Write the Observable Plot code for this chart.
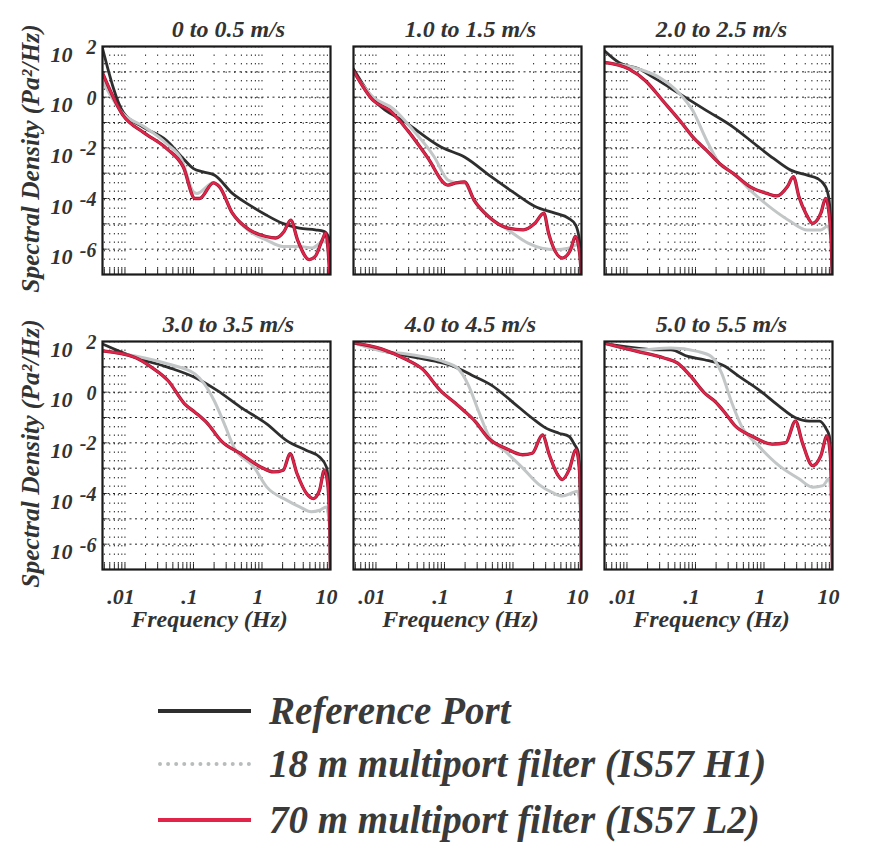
<!DOCTYPE html>
<html><head><meta charset="utf-8">
<script src="https://cdn.jsdelivr.net/npm/d3@7"></script>
<script src="https://cdn.jsdelivr.net/npm/@observablehq/plot@0.6"></script>
<style>
body{margin:0;background:#fff;}
#wrap{position:relative;width:875px;height:851px;font-family:"Liberation Serif","Times New Roman",serif;}
#chart{position:absolute;left:0;top:0;}
.row{position:absolute;left:158px;height:46px;display:flex;align-items:center;}
.sw{width:93px;height:0;margin-right:18px;}
.lt{font-weight:bold;font-style:italic;font-size:39px;color:#3a3a3a;white-space:nowrap;line-height:46px;}
</style></head>
<body><div id="wrap"><div id="chart"></div><div id="legend"></div></div>
<script>
// ---- labels ----
const panelTitles = ["0 to 0.5 m/s","1.0 to 1.5 m/s","2.0 to 2.5 m/s","3.0 to 3.5 m/s","4.0 to 4.5 m/s","5.0 to 5.5 m/s"];
const seriesKeys = ["ref","h1","l2"];
const seriesNames = ["Reference Port","18 m multiport filter (IS57 H1)","70 m multiport filter (IS57 L2)"];
const seriesColors = ["#2e2e2e","#c2c6c6","#e2244b"];
const xTickValues = [0.01,0.1,1,10];
const xTickLabels = [".01",".1","1","10"];
const yExponents = [2,0,-2,-4,-6];
const xTitle = "Frequency (Hz)";
const yTitle = "Spectral Density (Pa\u00B2/Hz)";

// ---- data: [frequency Hz, log10 spectral density (Pa^2/Hz)] ----
const ref0 = [[0.0047,1.93],[0.0095,-0.61],[0.0186,-1.19],[0.041,-1.72],[0.068,-2.37],[0.1,-2.82],[0.138,-2.95],[0.204,-3.08],[0.37,-3.8],[0.66,-4.26],[1.15,-4.65],[2.0,-4.98],[3.5,-5.17],[6.0,-5.24],[8.0,-5.3],[9.3,-5.5],[9.8,-6.3],[10,-7.3]];
const h1_0 = [[0.0047,0.63],[0.0095,-0.67],[0.0186,-1.15],[0.041,-1.85],[0.068,-2.5],[0.1,-3.74],[0.112,-3.8],[0.195,-3.38],[0.24,-3.54],[0.37,-4.58],[0.66,-5.3],[1.15,-5.63],[2.0,-5.89],[3.5,-5.89],[5.4,-5.95],[7.9,-5.7],[9.3,-5.8],[9.8,-6.6],[10,-7.3]];
const l2_0 = [[0.0047,0.96],[0.0095,-0.74],[0.0186,-1.39],[0.041,-2.04],[0.071,-2.76],[0.105,-4.0],[0.123,-4.0],[0.195,-3.38],[0.24,-3.54],[0.37,-4.58],[0.66,-5.24],[1.15,-5.5],[1.58,-5.56],[2.1,-5.3],[2.63,-4.85],[3.3,-5.63],[4.9,-6.41],[6.0,-6.28],[7.6,-5.63],[8.5,-5.37],[9.3,-6.15],[9.7,-6.93],[10,-7.3]];

const ref1 = [[0.0047,1.11],[0.0091,-0.07],[0.029,-1.05],[0.089,-1.97],[0.196,-2.36],[0.48,-3.14],[1.07,-3.8],[2.1,-4.32],[4.1,-4.58],[6.5,-4.78],[8.2,-5.04],[9.3,-5.63],[9.8,-6.6],[10,-7.3]];
const h1_1 = [[0.0047,0.98],[0.0091,0],[0.018,-0.46],[0.035,-1.31],[0.071,-2.36],[0.112,-3.27],[0.148,-3.38],[0.196,-3.4],[0.27,-4.06],[0.48,-4.78],[0.85,-5.24],[1.66,-5.76],[2.63,-5.96],[4.17,-6.02],[6.46,-5.96],[8.7,-5.83],[9.5,-6.2],[10,-7.3]];
const l2_1 = [[0.0047,1.04],[0.0091,-0.13],[0.016,-0.53],[0.029,-1.31],[0.056,-2.36],[0.112,-3.47],[0.148,-3.38],[0.196,-3.34],[0.27,-4.06],[0.437,-4.71],[0.85,-5.17],[1.41,-5.24],[2.09,-4.98],[2.82,-4.58],[3.31,-5.37],[5.25,-6.35],[6.92,-6.02],[8.13,-5.5],[9.1,-5.89],[9.8,-6.8],[10,-7.3]];

const ref2 = [[0.0047,1.83],[0.0076,1.37],[0.0151,1.11],[0.0263,0.72],[0.0589,0.13],[0.145,-0.53],[0.355,-1.18],[0.776,-1.9],[1.38,-2.42],[2.45,-2.88],[4.27,-3.08],[6.03,-3.21],[7.94,-3.54],[8.91,-4.06],[9.6,-5.5],[10,-7.3]];
const h1_2 = [[0.0047,1.37],[0.0151,1.11],[0.0295,0.78],[0.0589,0.13],[0.0912,-0.53],[0.145,-1.7],[0.224,-2.62],[0.355,-3.01],[0.708,-3.8],[1.38,-4.45],[2.45,-4.91],[4.27,-5.24],[6.76,-5.24],[8.51,-5.1],[9.5,-5.6],[10,-7.3]];
const l2_2 = [[0.0047,1.37],[0.0107,1.11],[0.0186,0.65],[0.0331,-0.13],[0.0589,-0.92],[0.0912,-1.57],[0.145,-2.1],[0.224,-2.62],[0.355,-3.01],[0.631,-3.54],[1.1,-3.8],[1.55,-3.9],[2.19,-3.54],[2.69,-3.14],[3.24,-3.93],[4.07,-4.58],[5.13,-4.98],[6.76,-4.58],[7.94,-4.0],[8.91,-4.58],[9.6,-5.8],[10,-7.3]];

const ref3 = [[0.0047,1.9],[0.0141,1.37],[0.0427,0.98],[0.105,0.58],[0.224,0.06],[0.49,-0.6],[1.17,-1.25],[2.29,-1.91],[4.47,-2.3],[6.92,-2.56],[8.71,-2.95],[9.5,-3.87],[10,-7.3]];
const h1_3 = [[0.0047,1.63],[0.0141,1.43],[0.0427,1.11],[0.105,0.72],[0.145,0.32],[0.2,-0.33],[0.282,-1.25],[0.389,-2.17],[0.759,-2.95],[1.17,-3.74],[2.29,-4.26],[3.55,-4.53],[5.25,-4.72],[6.92,-4.66],[8.71,-4.53],[9.6,-5.2],[10,-7.3]];
const l2_3 = [[0.0047,1.63],[0.0141,1.37],[0.0245,0.98],[0.0427,0.45],[0.0741,-0.46],[0.105,-0.79],[0.162,-1.25],[0.251,-1.91],[0.49,-2.43],[0.955,-2.95],[1.48,-3.15],[2.04,-3.08],[2.57,-2.43],[3.24,-3.21],[4.47,-4.0],[5.62,-4.2],[6.92,-3.87],[8.13,-3.08],[9.1,-3.6],[9.8,-5.5],[10,-7.3]];

const ref4 = [[0.0047,1.95],[0.0148,1.58],[0.0263,1.45],[0.0468,1.32],[0.0813,1.19],[0.145,0.99],[0.251,0.67],[0.49,0.27],[0.977,-0.38],[1.91,-1.03],[3.02,-1.42],[4.68,-1.62],[6.61,-1.75],[7.94,-2.08],[8.9,-2.34],[9.6,-4.0],[10,-7.3]];
const h1_4 = [[0.0047,1.95],[0.0148,1.58],[0.0263,1.52],[0.0513,1.39],[0.1,1.19],[0.158,0.93],[0.224,0.27],[0.316,-0.77],[0.437,-1.69],[0.776,-2.34],[1.38,-2.99],[2.4,-3.65],[3.8,-3.97],[5.25,-4.1],[7.41,-3.97],[8.71,-3.91],[9.6,-4.6],[10,-7.3]];
const l2_4 = [[0.0047,1.95],[0.012,1.71],[0.0263,1.32],[0.0468,0.93],[0.0912,0.01],[0.145,-0.44],[0.2,-0.77],[0.282,-1.16],[0.437,-1.82],[0.776,-2.21],[1.38,-2.47],[1.91,-2.41],[2.69,-1.69],[3.39,-2.47],[4.47,-3.25],[5.25,-3.45],[6.61,-3.06],[8.32,-2.27],[9.2,-2.86],[9.8,-5],[10,-7.3]];

const ref5 = [[0.0047,1.93],[0.0141,1.74],[0.0275,1.67],[0.0437,1.67],[0.0776,1.41],[0.135,1.28],[0.269,1.02],[0.427,0.63],[0.832,0.1],[1.66,-0.55],[2.88,-1.01],[4.57,-1.14],[6.46,-1.14],[8.13,-1.46],[9.0,-1.73],[9.6,-3.5],[10,-7.3]];
const h1_5 = [[0.0047,1.93],[0.0141,1.67],[0.0437,1.74],[0.107,1.61],[0.17,1.41],[0.24,0.76],[0.339,-0.42],[0.468,-1.33],[0.832,-2.12],[1.66,-2.9],[3.24,-3.42],[5.13,-3.75],[7.24,-3.69],[8.91,-3.42],[9.6,-4.2],[10,-7.3]];
const l2_5 = [[0.0047,1.93],[0.0141,1.61],[0.0347,1.35],[0.055,1.15],[0.0851,0.63],[0.135,-0.03],[0.19,-0.35],[0.269,-0.81],[0.38,-1.33],[0.661,-1.73],[1.32,-2.05],[2.09,-1.99],[2.88,-1.14],[3.63,-1.99],[5.13,-2.9],[6.76,-2.51],[8.32,-1.73],[9.3,-2.5],[9.8,-5],[10,-7.3]];

const xDomain = [0.0047, 10];
const yDomain = [1e-7, 1e2];

// ---- build table ----
const panelSeries = [
  [ref0,h1_0,l2_0],[ref1,h1_1,l2_1],[ref2,h1_2,l2_2],
  [ref3,h1_3,l2_3],[ref4,h1_4,l2_4],[ref5,h1_5,l2_5]
];
const table = [];
panelSeries.forEach((arrs, i) => {
  arrs.forEach((arr, s) => arr.forEach(([f, e]) =>
    table.push({col: i % 3, row: Math.floor(i / 3), series: seriesKeys[s], f, S: 10 ** e})));
});
const facetOf = i => ({col: i % 3, row: Math.floor(i / 3)});

const xMinor = [];
for (let k = -3; k <= 0; k++) for (let m = 1; m <= 9; m++) {
  const v = +(m * 10 ** k).toPrecision(3);
  if (v > xDomain[0] && v < xDomain[1]) xMinor.push(v);
}
const yDecades = d3.range(-6, 2).map(k => 10 ** k);

const titleData = panelTitles.map((t, i) => ({t, ...facetOf(i)}));
const yLabData = [];
[0, 1].forEach(r => yExponents.forEach(e => yLabData.push({col: 0, row: r, v: 10 ** e, e})));
const yTitleData = [{col: 0, row: 0}, {col: 0, row: 1}];
const xLabData = [];
[0, 1, 2].forEach(c => xTickValues.forEach((v, j) => xLabData.push({col: c, row: 1, f: v, label: xTickLabels[j]})));
const xTitleData = [0, 1, 2].map(c => ({col: c, row: 1}));

const txt = {fill: "#333", fontWeight: "bold", fontStyle: "italic"};
const line = (key, color, w) => Plot.line(table.filter(d => d.series === key),
  {fx: "col", fy: "row", x: "f", y: "S", stroke: color, strokeWidth: w, curve: "monotone-x", clip: true});
const titleMark = (data, dx) => Plot.text(data, {fx: "col", fy: "row", text: "t", frameAnchor: "top", lineAnchor: "middle", dy: -17, dx, fontSize: 24, ...txt});

const chart = Plot.plot({
  width: 875, height: 640,
  marginLeft: 102, marginRight: 43, marginTop: 45, marginBottom: 70,
  style: {fontFamily: "'Liberation Serif', 'Times New Roman', serif", background: "#fff"},
  fx: {axis: null, domain: [0, 1, 2], paddingInner: 0.092, paddingOuter: 0},
  fy: {axis: null, domain: [0, 1], paddingInner: 0.226, paddingOuter: 0},
  x: {type: "log", domain: xDomain, axis: null},
  y: {type: "log", domain: yDomain, axis: null},
  marks: [
    Plot.ruleX(xMinor, {stroke: "#222", strokeWidth: 1, strokeDasharray: "1.4,7.1"}),
    Plot.ruleY(yDecades, {stroke: "#222", strokeWidth: 1, strokeDasharray: "2,3.5"}),
    Plot.ruleX(xMinor, {y1: yDomain[0], y2: 10 ** -6.78, stroke: "#222", strokeWidth: 1}),
    Plot.ruleY(yDecades, {x1: xDomain[0], x2: xDomain[0] * 10 ** 0.07, stroke: "#222", strokeWidth: 1}),
    line("ref", seriesColors[0], 2.8),
    line("h1", seriesColors[1], 3),
    line("l2", "#8e1a30", 3.3),
    line("l2", seriesColors[2], 2.2),
    Plot.frame({stroke: "#1a1a1a", strokeWidth: 2.2}),
    titleMark(titleData.filter(d => d.col === 0), 12),
    titleMark(titleData.filter(d => d.col !== 0), 3),
    Plot.text(yLabData, {fx: "col", fy: "row", y: "v", frameAnchor: "left", text: () => "10", textAnchor: "end", lineAnchor: "middle", dx: -30, dy: 8, fontSize: 22, ...txt}),
    Plot.text(yLabData, {fx: "col", fy: "row", y: "v", frameAnchor: "left", text: d => (d.e < 0 ? "-" + (-d.e) : String(d.e)), textAnchor: "end", lineAnchor: "middle", dx: -6, dy: 1, fontSize: 20, ...txt}),
    Plot.text(yTitleData, {fx: "col", fy: "row", frameAnchor: "left", text: () => yTitle, rotate: -90, textAnchor: "middle", lineAnchor: "middle", dx: -72, dy: -2, fontSize: 25.5, ...txt}),
    Plot.text(xLabData, {fx: "col", fy: "row", x: "f", frameAnchor: "bottom", lineAnchor: "middle", text: "label", dy: 27, dx: -4, fontSize: 22, ...txt}),
    Plot.text(xTitleData, {fx: "col", fy: "row", frameAnchor: "bottom", lineAnchor: "middle", text: () => xTitle, dy: 50, dx: -7, fontSize: 24, ...txt})
  ]
});
document.getElementById("chart").appendChild(chart);

// ---- legend ----
const legendTops = [688, 741, 797];
const swatchStyles = [
  "border-top:4px solid " + seriesColors[0],
  "border-top:4px dotted #b8bcbc",
  "border-top:4px solid " + seriesColors[2]
];
const leg = document.getElementById("legend");
seriesNames.forEach((name, i) => {
  const row = document.createElement("div");
  row.className = "row";
  row.style.top = legendTops[i] + "px";
  const sw = document.createElement("div");
  sw.className = "sw";
  sw.style.cssText = swatchStyles[i];
  const lt = document.createElement("span");
  lt.className = "lt";
  lt.textContent = name;
  row.appendChild(sw); row.appendChild(lt);
  leg.appendChild(row);
});
</script>
</body></html>
